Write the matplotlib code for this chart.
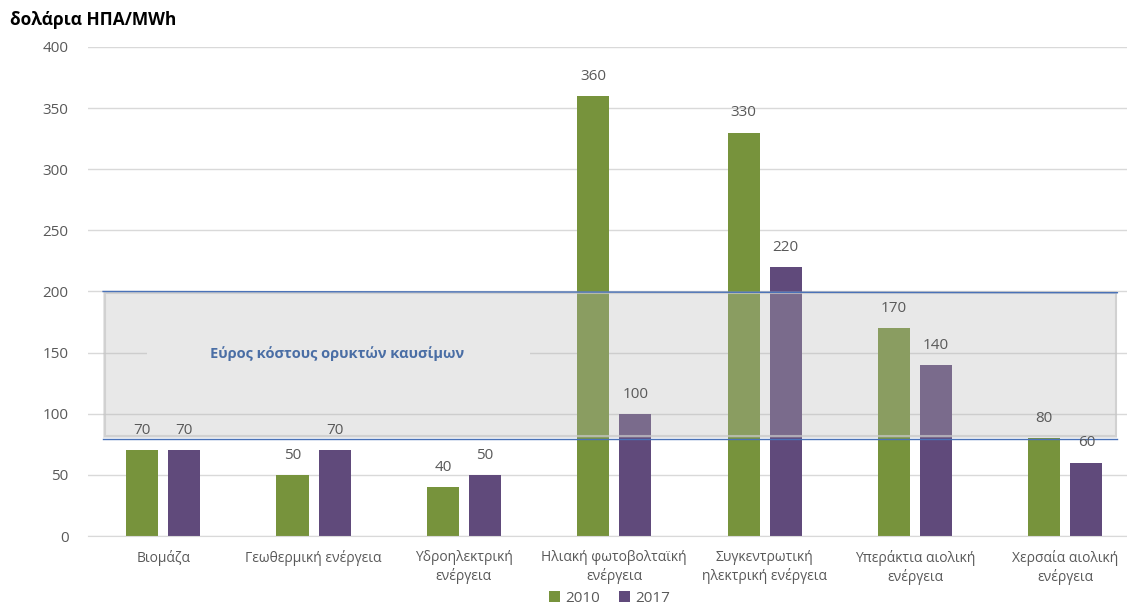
import matplotlib.pyplot as plt
import numpy as np
from matplotlib.patches import Rectangle

plt.rcParams["font.family"] = ["Open Sans", "DejaVu Sans"]

categories = [
    "Βιομάζα",
    "Γεωθερμική ενέργεια",
    "Υδροηλεκτρική\nενέργεια",
    "Ηλιακή φωτοβολταϊκή\nενέργεια",
    "Συγκεντρωτική\nηλεκτρική ενέργεια",
    "Υπεράκτια αιολική\nενέργεια",
    "Χερσαία αιολική\nενέργεια",
]
values_2010 = [70, 50, 40, 360, 330, 170, 80]
values_2017 = [70, 70, 50, 100, 220, 140, 60]
fossil_low, fossil_high = 80, 200
fossil_label = "Εύρος κόστους ορυκτών καυσίμων"
y_label = "δολάρια ΗΠΑ/MWh"

green = "#77933c"
purple = "#604a7b"
label_gray = "#595959"

fig = plt.figure(figsize=(11.27, 6.06), dpi=100)
ax = fig.add_axes([0.0781, 0.1155, 0.9219, 0.807])

x = np.arange(len(categories))
w = 0.213
off = 0.14

b1 = ax.bar(x - off, values_2010, w, color=green, label="2010", zorder=2)
b2 = ax.bar(x + off, values_2017, w, color=purple, label="2017", zorder=2)

for bars, vals in ((b1, values_2010), (b2, values_2017)):
    for rect, v in zip(bars, vals):
        ax.text(rect.get_x() + rect.get_width() / 2, v + 10, f"{v}",
                ha="center", va="bottom", fontsize=11, color=label_gray, zorder=5)

# fossil fuel cost band drawn over the bars
x0, x1 = -0.40, 6.346
# white patch breaks the gridline behind the band label
ax.add_patch(Rectangle((-0.11, 143), 2.55, 14, facecolor="white",
                       edgecolor="none", zorder=1.5))
ax.add_patch(Rectangle((x0, fossil_low), x1 - x0, fossil_high - fossil_low,
                       facecolor=(181 / 255, 181 / 255, 181 / 255), alpha=0.31,
                       edgecolor="none", zorder=3))
ax.add_patch(Rectangle((x0 + 0.01, fossil_low + 1.5), x1 - x0 - 0.02,
                       fossil_high - fossil_low - 3, facecolor="none",
                       edgecolor="#c8c8c8", linewidth=1.5, alpha=0.7, zorder=3.2))
ax.plot([x0, x1], [fossil_high, fossil_high - 1], color="#4a72b8", lw=1.0, zorder=4)
ax.plot([x0, x1], [fossil_low - 1, fossil_low - 1], color="#4a72b8", lw=1.0, zorder=4)
ax.text(1.157, 149, fossil_label, ha="center", va="center", fontsize=10.5,
        fontweight="bold", color="#4a6ea5", zorder=5)

ax.set_xlim(-0.5, 6.41)
ax.set_ylim(0, 400)
ax.set_yticks(np.arange(0, 401, 50))
ax.set_xticks(x)
ax.set_xticklabels(categories, fontsize=10, color=label_gray, linespacing=1.25)
ax.tick_params(axis="y", labelsize=11, labelcolor=label_gray, length=0, pad=14)
ax.tick_params(axis="x", length=0, pad=10)

ax.yaxis.grid(True, color="#d9d9d9", linewidth=1.0)
ax.set_axisbelow(True)
for side in ("top", "right", "left"):
    ax.spines[side].set_visible(False)
ax.spines["bottom"].set_color("#d9d9d9")

fig.text(0.009, 0.967, y_label, fontsize=12.5, fontweight="bold",
         ha="left", va="center", color="black")

fig.legend(handles=[b1, b2], loc="center", bbox_to_anchor=(0.541, 0.013),
           ncol=2, frameon=False, fontsize=11, handlelength=0.7,
           handleheight=0.7, handletextpad=0.4, columnspacing=1.2,
           labelcolor=label_gray)

fig.savefig("out.png", dpi=100)
